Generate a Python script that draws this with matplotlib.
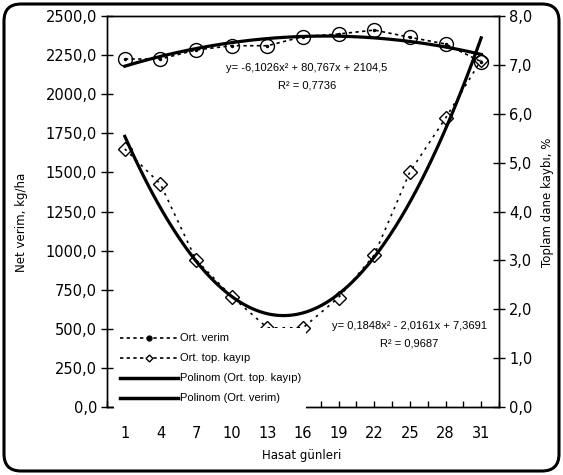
#Hasat gunlerine gore net verim ve toplam dane kaybi
import numpy as np
import matplotlib.pyplot as plt
from matplotlib.lines import Line2D
from matplotlib.patches import FancyBboxPatch

#data
days = ['1', '4', '7', '10', '13', '16', '19', '22', '25', '28', '31']
ort_verim = [2225, 2225, 2283, 2310, 2310, 2368, 2385, 2410, 2364, 2321, 2208]
ort_kayip = [5.28, 4.56, 3.01, 2.26, 1.62, 1.62, 2.24, 3.11, 4.81, 5.91, 7.10]

#trendline coefficients (from the equations on the chart)
verim_coef = [-6.1026, 80.767, 2104.5]
kayip_coef = [0.1848, -2.0161, 7.3691]

left_ticks = np.arange(0, 2501, 250)
right_ticks = np.arange(0, 9, 1)

def comma(v):
    return f"{v:.1f}".replace('.', ',')

fig = plt.figure(figsize=(5.63, 4.75), dpi=100)
ax = fig.add_axes([107/563, 68/475, 392/563, 391/475])
ax2 = ax.twinx()

xpos = np.arange(len(days))
xs = np.linspace(1, len(days), 200)

#series
ax.plot(xpos, ort_verim, color='black', ls=(0, (2, 2)), lw=1.2,
        marker='o', ms=10, mfc='none', mec='black', mew=1)
ax.plot(xpos, ort_verim, ls='none', marker='.', ms=3, color='black')
ax.plot(xs - 1, np.polyval(verim_coef, xs), color='black', lw=2.3)

ax2.plot(xpos, ort_kayip, color='black', ls=(0, (1.5, 3)), lw=1.2,
         marker='D', ms=7, mfc='none', mec='black', mew=1)
ax2.plot(xs - 1, np.polyval(kayip_coef, xs), color='black', lw=2.3)

#axes
ax.set_xlim(-0.5, len(days) - 0.5)
ax.set_ylim(0, 2500)
ax2.set_ylim(0, 8)
ax.set_xticks(xpos)
ax.set_xticklabels(days)
ax.set_xticks(np.arange(-0.5, len(days), 1), minor=True)
ax.set_yticks(left_ticks)
ax.set_yticklabels([comma(v) for v in left_ticks])
ax2.set_yticks(right_ticks)
ax2.set_yticklabels([comma(v) for v in right_ticks])

for a in (ax, ax2):
    for s in a.spines.values():
        s.set_linewidth(1)
ax.tick_params(axis='y', direction='inout', length=8.5, width=1, pad=3, labelsize=10.5)
ax2.tick_params(axis='y', direction='inout', length=8.5, width=1, pad=3, labelsize=10.5)
ax.tick_params(axis='x', which='both', direction='in', length=4, width=1, pad=14, labelsize=10.5)

#axis titles
fig.text(22/563, 1 - 272/475, "Net verim, kg/ha", rotation=90, ha='center', va='bottom', fontsize=8.5)
fig.text(548/563, 1 - 138/475, "Toplam dane kaybı, %", rotation=90, ha='center', va='top', fontsize=8.5)
fig.text(302/563, 1 - 455/475, "Hasat günleri", ha='center', va='center', fontsize=8.5)

#trendline equations
eq_font = {'family': 'Liberation Sans', 'size': 8}
fig.text(307/563, 1 - 68/475, "y= -6,1026x² + 80,767x + 2104,5", ha='center', va='center', fontdict=eq_font)
fig.text(307/563, 1 - 86/475, "R² = 0,7736", ha='center', va='center', fontdict=eq_font)
fig.text(409/563, 1 - 326/475, "y= 0,1848x² - 2,0161x + 7,3691", ha='center', va='center', fontdict=eq_font)
fig.text(409/563, 1 - 343/475, "R² = 0,9687", ha='center', va='center', fontdict=eq_font)

#legend
handles = [
    Line2D([], [], color='black', ls=(0, (2, 2)), lw=1.2, marker='o', ms=3.5, mfc='black'),
    Line2D([], [], color='black', ls=(0, (2, 2)), lw=1.2, marker='D', ms=3.5, mfc='white'),
    Line2D([], [], color='black', lw=2.5),
    Line2D([], [], color='black', lw=2.5),
]
labels = ["Ort. verim", "Ort. top. kayıp", "Polinom (Ort. top. kayıp)", "Polinom (Ort. verim)"]
leg = ax2.legend(handles, labels, loc='lower left', bbox_to_anchor=(114/563, 66/475),
                 bbox_transform=fig.transFigure, prop={'family': 'Liberation Sans', 'size': 8},
                 frameon=True, fancybox=False, edgecolor='none', facecolor='white', framealpha=1,
                 handlelength=5.3, handletextpad=0.1, labelspacing=0.9, borderpad=0.5,
                 borderaxespad=0, numpoints=1)

#rounded outer frame
frame = FancyBboxPatch((0.04, 0.04), 5.55, 4.67, boxstyle="round,pad=0,rounding_size=0.17",
                       transform=fig.dpi_scale_trans, facecolor='none', edgecolor='black', lw=2.2)
fig.patches.append(frame)

plt.savefig("out.png", dpi=100)
